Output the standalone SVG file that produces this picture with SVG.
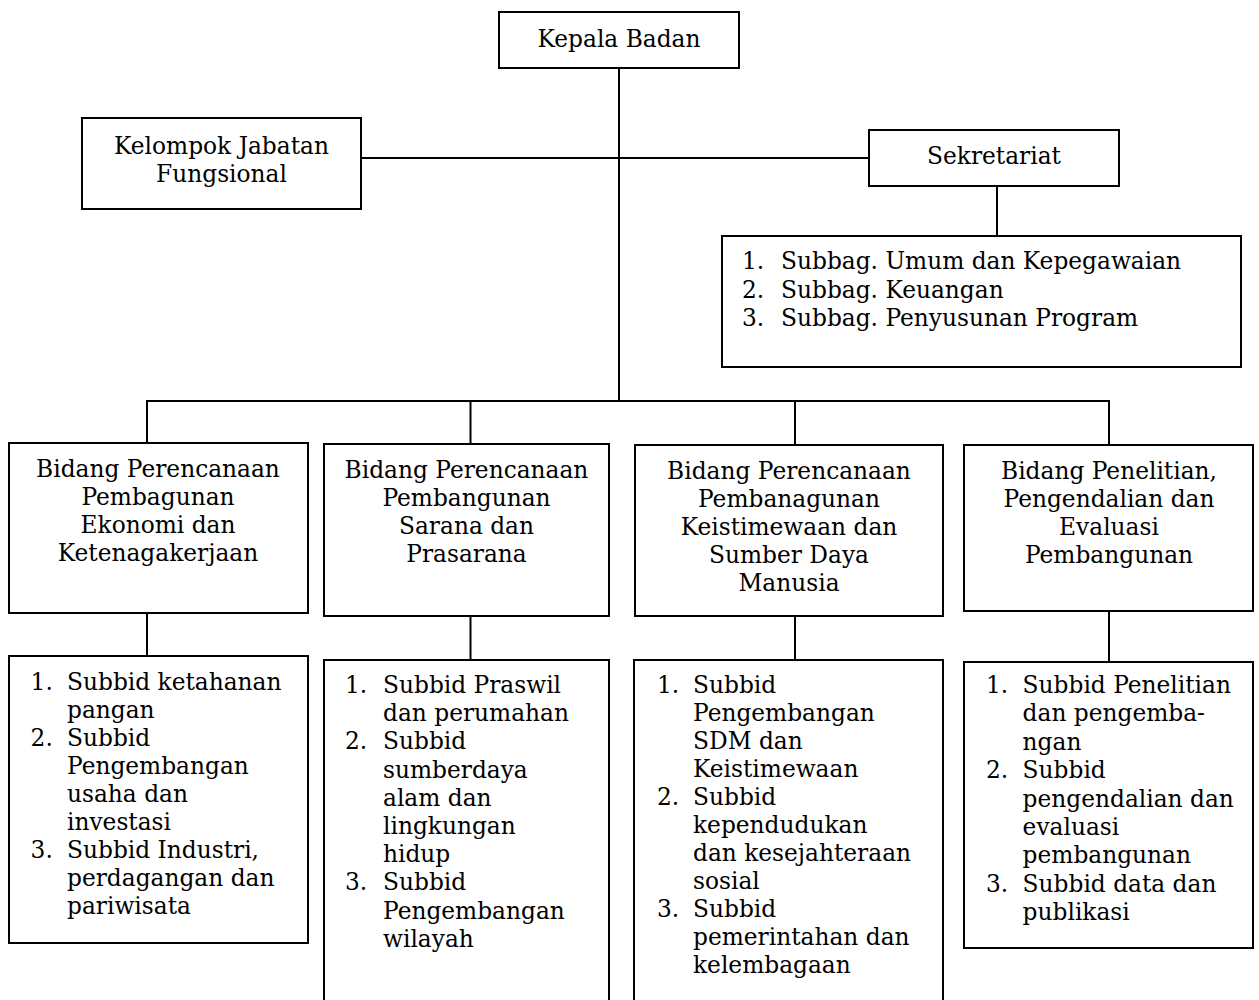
<svg xmlns="http://www.w3.org/2000/svg" width="1259" height="1000" viewBox="0 0 1259 1000">
<style>
.box{fill:#fff;stroke:#000;stroke-width:2}
.ln{stroke:#000;stroke-width:2;fill:none}
text{font-family:"DejaVu Serif","Liberation Serif",serif;font-size:23.3px;fill:#000}
.c{text-anchor:middle}
</style>
<rect width="1259" height="1000" fill="#fff"/>
<g id="connectors">
<line class="ln" x1="619" y1="68" x2="619" y2="401"/>
<line class="ln" x1="361" y1="158" x2="869" y2="158"/>
<line class="ln" x1="997" y1="186" x2="997" y2="236"/>
<polyline class="ln" points="147,443 147,401 1109,401 1109,445"/>
<line class="ln" x1="470.5" y1="401" x2="470.5" y2="444"/>
<line class="ln" x1="795" y1="401" x2="795" y2="445"/>
<line class="ln" x1="147" y1="613" x2="147" y2="656"/>
<line class="ln" x1="470.5" y1="616" x2="470.5" y2="660"/>
<line class="ln" x1="795" y1="616" x2="795" y2="660"/>
<line class="ln" x1="1109" y1="611" x2="1109" y2="662"/>
</g>
<g id="kepala">
<rect class="box" x="499" y="12" width="240" height="56"/>
<text class="c" x="619" y="47">Kepala Badan</text>
</g>
<g id="kelompok">
<rect class="box" x="82" y="118" width="279" height="91"/>
<text class="c" x="221.5" y="154">Kelompok Jabatan</text>
<text class="c" x="221.5" y="182">Fungsional</text>
</g>
<g id="sekretariat">
<rect class="box" x="869" y="130" width="250" height="56"/>
<text class="c" x="994" y="164">Sekretariat</text>
</g>
<g id="subbag">
<rect class="box" x="722" y="236" width="519" height="131"/>
<text x="742" y="269">1.</text><text x="781" y="269">Subbag. Umum dan Kepegawaian</text>
<text x="742" y="297.5">2.</text><text x="781" y="297.5">Subbag. Keuangan</text>
<text x="742" y="325.7">3.</text><text x="781" y="325.7">Subbag. Penyusunan Program</text>
</g>
<g id="bidang1">
<rect class="box" x="9" y="443" width="299" height="170"/>
<text class="c" x="158" y="477">Bidang Perencanaan</text>
<text class="c" x="158" y="505">Pembagunan</text>
<text class="c" x="158" y="533">Ekonomi dan</text>
<text class="c" x="158" y="561">Ketenagakerjaan</text>
</g>
<g id="bidang2">
<rect class="box" x="324" y="444" width="285" height="172"/>
<text class="c" x="466.5" y="478">Bidang Perencanaan</text>
<text class="c" x="466.5" y="506">Pembangunan</text>
<text class="c" x="466.5" y="534">Sarana dan</text>
<text class="c" x="466.5" y="562">Prasarana</text>
</g>
<g id="bidang3">
<rect class="box" x="635" y="445" width="308" height="171"/>
<text class="c" x="789" y="479">Bidang Perencanaan</text>
<text class="c" x="789" y="507">Pembanagunan</text>
<text class="c" x="789" y="535">Keistimewaan dan</text>
<text class="c" x="789" y="563">Sumber Daya</text>
<text class="c" x="789" y="591">Manusia</text>
</g>
<g id="bidang4">
<rect class="box" x="964" y="445" width="289" height="166"/>
<text class="c" x="1109" y="479">Bidang Penelitian,</text>
<text class="c" x="1109" y="507">Pengendalian dan</text>
<text class="c" x="1109" y="535">Evaluasi</text>
<text class="c" x="1109" y="563">Pembangunan</text>
</g>
<g id="subbid1">
<rect class="box" x="9" y="656" width="299" height="287"/>
<text x="30.6" y="690">1.</text><text x="67" y="690">Subbid ketahanan</text>
<text x="67" y="718">pangan</text>
<text x="30.6" y="746">2.</text><text x="67" y="746">Subbid</text>
<text x="67" y="774">Pengembangan</text>
<text x="67" y="802">usaha dan</text>
<text x="67" y="830">investasi</text>
<text x="30.6" y="858">3.</text><text x="67" y="858">Subbid Industri,</text>
<text x="67" y="886">perdagangan dan</text>
<text x="67" y="914">pariwisata</text>
</g>
<g id="subbid2">
<rect class="box" x="324" y="660" width="285" height="360"/>
<text x="345" y="693">1.</text><text x="383" y="693">Subbid Praswil</text>
<text x="383" y="721.2">dan perumahan</text>
<text x="345" y="749.4">2.</text><text x="383" y="749.4">Subbid</text>
<text x="383" y="777.6">sumberdaya</text>
<text x="383" y="805.8">alam dan</text>
<text x="383" y="834">lingkungan</text>
<text x="383" y="862.2">hidup</text>
<text x="345" y="890.4">3.</text><text x="383" y="890.4">Subbid</text>
<text x="383" y="918.6">Pengembangan</text>
<text x="383" y="946.8">wilayah</text>
</g>
<g id="subbid3">
<rect class="box" x="634" y="660" width="309" height="360"/>
<text x="657" y="693">1.</text><text x="693" y="693">Subbid</text>
<text x="693" y="721">Pengembangan</text>
<text x="693" y="749">SDM dan</text>
<text x="693" y="777">Keistimewaan</text>
<text x="657" y="805">2.</text><text x="693" y="805">Subbid</text>
<text x="693" y="833">kependudukan</text>
<text x="693" y="861">dan kesejahteraan</text>
<text x="693" y="889">sosial</text>
<text x="657" y="917">3.</text><text x="693" y="917">Subbid</text>
<text x="693" y="945">pemerintahan dan</text>
<text x="693" y="973">kelembagaan</text>
</g>
<g id="subbid4">
<rect class="box" x="964" y="662" width="289" height="286"/>
<text x="986" y="693">1.</text><text x="1022.6" y="693">Subbid Penelitian</text>
<text x="1022.6" y="721.4">dan pengemba-</text>
<text x="1022.6" y="749.8">ngan</text>
<text x="986" y="778.2">2.</text><text x="1022.6" y="778.2">Subbid</text>
<text x="1022.6" y="806.6">pengendalian dan</text>
<text x="1022.6" y="835">evaluasi</text>
<text x="1022.6" y="863.4">pembangunan</text>
<text x="986" y="891.8">3.</text><text x="1022.6" y="891.8">Subbid data dan</text>
<text x="1022.6" y="920.2">publikasi</text>
</g>
</svg>
